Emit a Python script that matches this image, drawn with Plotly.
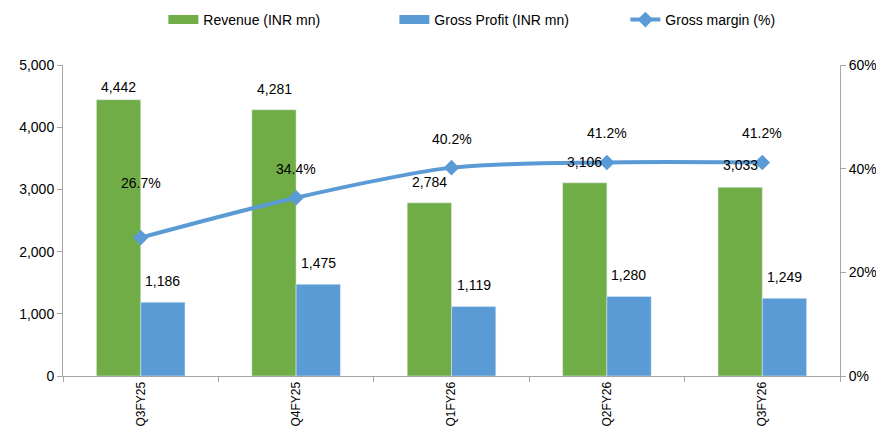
import plotly.graph_objects as go

categories = ["Q3FY25", "Q4FY25", "Q1FY26", "Q2FY26", "Q3FY26"]
revenue = [4442, 4281, 2784, 3106, 3033]
gross_profit = [1186, 1475, 1119, 1280, 1249]
gross_margin = [26.7, 34.4, 40.2, 41.2, 41.2]
left_ticks = [0, 1000, 2000, 3000, 4000, 5000]
right_ticks = [0, 20, 40, 60]

FONT = "Liberation Sans"
GREEN = "#70AD47"
BLUE = "#5B9BD5"
AXIS = "#A6A6A6"

W, H = 868, 420

fig = go.Figure()
fig.add_trace(go.Bar(x=categories, y=revenue, name="Revenue (INR mn)",
                     marker=dict(color=GREEN), yaxis="y", showlegend=False))
fig.add_trace(go.Bar(x=categories, y=gross_profit, name="Gross Profit (INR mn)",
                     marker=dict(color=BLUE), yaxis="y", showlegend=False))
fig.add_trace(go.Scatter(x=categories, y=gross_margin, name="Gross margin (%)",
                         mode="lines+markers", yaxis="y2", legendrank=3,
                         line=dict(color=BLUE, width=4, shape="spline", smoothing=0.8),
                         marker=dict(symbol="diamond", size=12, color=BLUE)))
# legend-only swatches (wide rectangles like the reference)
fig.add_trace(go.Scatter(x=[None], y=[None], name="Revenue (INR mn)", mode="lines",
                         line=dict(color=GREEN, width=9), legendrank=1,
                         hoverinfo="skip"))
fig.add_trace(go.Scatter(x=[None], y=[None], name="Gross Profit (INR mn)", mode="lines",
                         line=dict(color=BLUE, width=9), legendrank=2,
                         hoverinfo="skip"))

annotations = []
rev_shift = [13, 21, 21, 21, 22]
for c, v, s in zip(categories, revenue, rev_shift):
    annotations.append(dict(x=c, y=v, xref="x", yref="y", text=f"{v:,}",
                            showarrow=False, yshift=s, xshift=-22,
                            font=dict(size=14, color="#000", family=FONT)))
for c, v in zip(categories, gross_profit):
    annotations.append(dict(x=c, y=v, xref="x", yref="y", text=f"{v:,}",
                            showarrow=False, yshift=21, xshift=22,
                            font=dict(size=14, color="#000", family=FONT)))
gm_shift = [55, 29, 29, 29, 29]
for c, v, s in zip(categories, gross_margin, gm_shift):
    annotations.append(dict(x=c, y=v, xref="x", yref="y2", text=f"{v:.1f}%",
                            showarrow=False, yshift=s,
                            font=dict(size=14, color="#000", family=FONT)))

fig.update_layout(
    width=W, height=H,
    margin=dict(l=55, r=36, t=57, b=52),
    paper_bgcolor="white", plot_bgcolor="white",
    font=dict(family=FONT, size=14, color="#000"),
    barmode="group", bargap=0.43, bargroupgap=0,
    showlegend=True,
    legend=dict(orientation="h", xref="container", yref="container",
                x=0.179, xanchor="left", y=1 - 12 / H, yanchor="middle",
                font=dict(size=14, color="#000"), traceorder="normal",
                itemwidth=30, entrywidth=186, entrywidthmode="pixels"),
    xaxis=dict(type="category", showline=True, linecolor=AXIS, linewidth=1,
               ticks="outside", tickson="boundaries", ticklen=5, tickcolor=AXIS,
               tickangle=-90, showgrid=False, tickfont=dict(size=12),
               automargin=False),
    yaxis=dict(range=[0, 5000], tickvals=left_ticks,
               ticktext=[f"{t:,}" for t in left_ticks],
               showline=True, linecolor=AXIS, linewidth=1,
               ticks="outside", ticklen=5, tickcolor=AXIS, showgrid=False,
               zeroline=False, tickfont=dict(size=14), automargin=False),
    yaxis2=dict(range=[0, 60], tickvals=right_ticks,
                ticktext=[f"{t}%" for t in right_ticks],
                overlaying="y", side="right", showline=True, linecolor=AXIS,
                linewidth=1, ticks="outside", ticklen=5, tickcolor=AXIS,
                showgrid=False, zeroline=False, tickfont=dict(size=14),
                automargin=False),
    annotations=annotations,
)

fig.write_html("out.html")
